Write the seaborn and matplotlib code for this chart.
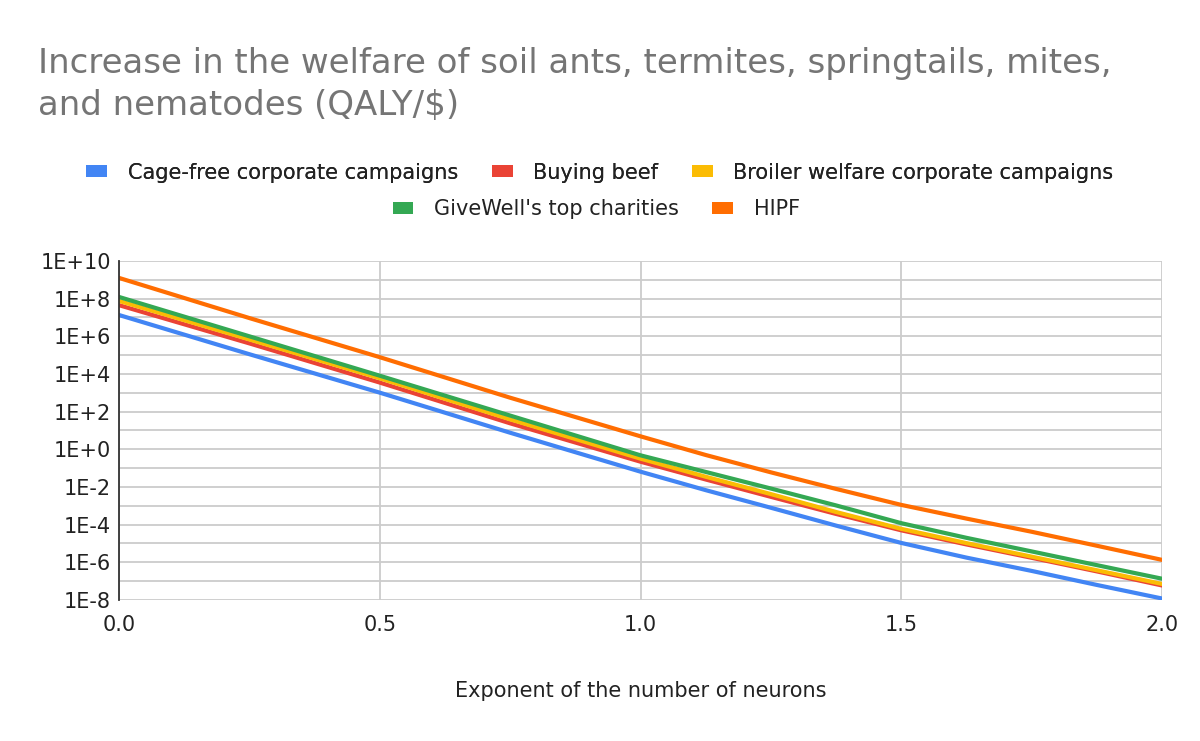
import numpy as np
import pandas as pd
import matplotlib
matplotlib.use('Agg')
import matplotlib.pyplot as plt
import matplotlib.ticker as mticker
from matplotlib.patches import Patch
import seaborn as sns

# values (QALY/$, log scale)
exponent = [0.0, 0.25, 0.5, 0.75, 1.0, 1.125, 1.25, 1.375, 1.5, 1.625, 1.75, 1.875, 2.0]
cage_free = [1.35e7, 1.12e5, 1.02e3, 7.6, 6.5e-2, 6.8e-3, 7.9e-4, 8.9e-5, 1.07e-5, 1.78e-6, 3.5e-7, 6.3e-8, 1.2e-8]
buying_beef = [4.5e7, 4.2e5, 3.5e3, 24, 0.22, 2.5e-2, 3.0e-3, 3.7e-4, 5.0e-5, 8.9e-6, 1.74e-6, 3.3e-7, 5.9e-8]
broiler = [7.6e7, 6.8e5, 5.9e3, 39, 0.32, 3.5e-2, 4.2e-3, 4.7e-4, 6.0e-5, 1.05e-5, 2.0e-6, 3.8e-7, 7.1e-8]
givewell = [1.23e8, 1.0e6, 8.1e3, 62, 0.48, 6.3e-2, 8.3e-3, 1.05e-3, 1.2e-4, 2.0e-5, 3.8e-6, 7.1e-7, 1.35e-7]
hipf = [1.26e9, 9.3e6, 7.8e4, 550, 4.9, 0.50, 6.0e-2, 7.9e-3, 1.12e-3, 2.1e-4, 4.2e-5, 7.6e-6, 1.35e-6]

series_names = ['Cage-free corporate campaigns', 'Buying beef',
                'Broiler welfare corporate campaigns', "GiveWell's top charities", 'HIPF']
series_values = [cage_free, buying_beef, broiler, givewell, hipf]
colors = ['#4285F4', '#EA4335', '#FBBC04', '#34A853', '#FF6D01']

rows = []
for name, vals in zip(series_names, series_values):
    for x, v in zip(exponent, vals):
        rows.append({'exponent': x, 'qaly': v, 'series': name})
df = pd.DataFrame(rows)

sns.set_style('white')
plt.rcParams['font.family'] = ['DejaVu Sans']

fig = plt.figure(figsize=(12, 7.41), dpi=100)
ax = fig.add_axes([0.0992, 0.1903, 0.8691, 0.4575])

sns.lineplot(data=df, x='exponent', y='qaly', hue='series', hue_order=series_names,
             palette=colors, linewidth=3, legend=False, ax=ax)

ax.set_yscale('log')
ax.set_xlim(0, 2)
ax.set_ylim(1e-8, 1e10)

ax.yaxis.set_major_locator(mticker.FixedLocator([10.0 ** e for e in range(-8, 11, 2)]))
ax.yaxis.set_minor_locator(mticker.FixedLocator([10.0 ** e for e in range(-7, 10, 2)]))
ax.yaxis.set_major_formatter(mticker.FuncFormatter(lambda v, p: f"1E{int(round(np.log10(v))):+d}"))
ax.yaxis.set_minor_formatter(mticker.NullFormatter())
ax.xaxis.set_major_locator(mticker.FixedLocator([0, 0.5, 1.0, 1.5, 2.0]))
ax.xaxis.set_major_formatter(mticker.FormatStrFormatter('%.1f'))

ax.grid(True, which='both', color='#cccccc', linewidth=1.3)
ax.set_axisbelow(True)
for side in ['top', 'right', 'bottom']:
    ax.spines[side].set_visible(False)
ax.spines['left'].set_color('#333333')
ax.spines['left'].set_linewidth(1.3)
ax.spines['left'].set_zorder(5)
ax.tick_params(axis='both', which='both', length=0, labelsize=15, colors='#222222', pad=6)
ax.tick_params(axis='x', pad=11)

ax.set_xlabel('Exponent of the number of neurons', fontsize=15, color='#222222', labelpad=33)
ax.set_ylabel('')

fig.text(0.032, 0.936, 'Increase in the welfare of soil ants, termites, springtails, mites,\nand nematodes (QALY/$)',
         fontsize=24.5, color='#757575', ha='left', va='top', linespacing=1.32)

handles = [Patch(facecolor=c, edgecolor='none') for c in colors]
leg_kw = dict(frameon=False, fontsize=15, handlelength=1.0, handleheight=0.5,
              columnspacing=1.6, handletextpad=1.0, labelcolor='#222222')
leg1 = fig.legend(handles[:3], series_names[:3], loc='center', bbox_to_anchor=(0.5, 0.767),
                  ncol=3, **leg_kw)
leg2 = fig.legend(handles[3:], series_names[3:], loc='center', bbox_to_anchor=(0.497, 0.718),
                  ncol=2, **leg_kw)
fig.add_artist(leg1)

fig.savefig('out.png', dpi=100)
